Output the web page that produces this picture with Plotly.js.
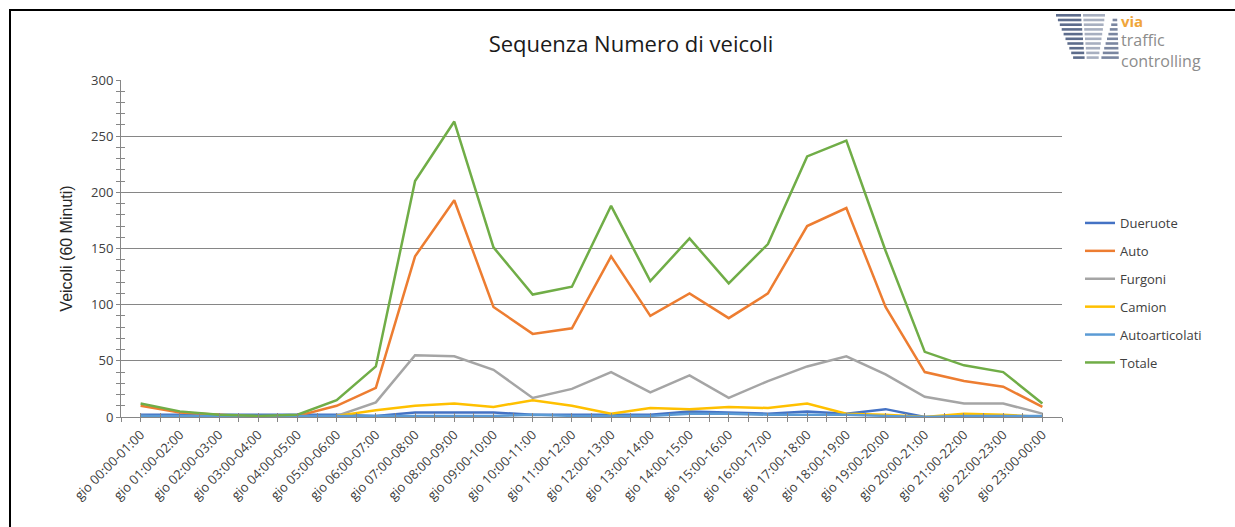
<!DOCTYPE html>
<html>
<head>
<meta charset="utf-8">
<script src="https://cdn.plot.ly/plotly-3.0.1.min.js"></script>
<style>
  html, body { margin: 0; padding: 0; background: #fff; overflow: hidden; }
  #wrap { position: relative; width: 1235px; height: 527px; }
  #chart { width: 1235px; height: 527px; }
  #frame { position: absolute; left: 9px; top: 9px; width: 1300px; height: 600px;
           border: 2px solid #000; pointer-events: none; box-sizing: border-box; }
</style>
</head>
<body>
<div id="wrap"><div id="chart"></div><div id="frame"></div></div>
<script>
const categories = [
  "gio 00:00-01:00","gio 01:00-02:00","gio 02:00-03:00","gio 03:00-04:00",
  "gio 04:00-05:00","gio 05:00-06:00","gio 06:00-07:00","gio 07:00-08:00",
  "gio 08:00-09:00","gio 09:00-10:00","gio 10:00-11:00","gio 11:00-12:00",
  "gio 12:00-13:00","gio 13:00-14:00","gio 14:00-15:00","gio 15:00-16:00",
  "gio 16:00-17:00","gio 17:00-18:00","gio 18:00-19:00","gio 19:00-20:00",
  "gio 20:00-21:00","gio 21:00-22:00","gio 22:00-23:00","gio 23:00-00:00"
];
const dueruote       = [2,2,2,2,2,2,1,4,4,4,2,2,2,2,5,4,3,5,3,7,0,0,0,0];
const auto           = [10,4,2,0,1,10,26,143,193,98,74,79,143,90,110,88,110,170,186,98,40,32,27,9];
const furgoni        = [1,0,0,0,0,1,13,55,54,42,17,25,40,22,37,17,32,45,54,38,18,12,12,3];
const camion         = [0,0,0,0,0,1,6,10,12,9,15,10,3,8,7,9,8,12,3,2,0,3,2,0];
const autoarticolati = [1,1,1,1,1,1,1,1,1,1,2,1,1,1,3,3,2,2,2,1,0,1,1,1];
const totale         = [12,5,2,1,2,15,45,210,263,151,109,116,188,121,159,119,154,232,246,148,58,46,40,12];

const seriesNames  = ["Dueruote","Auto","Furgoni","Camion","Autoarticolati","Totale"];
const seriesValues = [dueruote, auto, furgoni, camion, autoarticolati, totale];
const seriesColors = ["#4472C4","#ED7D31","#A5A5A5","#FFC000","#5B9BD5","#70AD47"];

const idx = categories.map((_, i) => i);

const traces = seriesNames.map((name, k) => ({
  type: "scatter", mode: "lines", name: name,
  x: idx, y: seriesValues[k],
  line: { color: seriesColors[k], width: 2.5 },
  legendgroup: name,
  hoverinfo: "x+y+name"
}));
// invisible helper trace so the overlay axes (crossing ticks) get drawn
traces.push({
  type: "scatter", mode: "lines", x: idx, y: totale, xaxis: "x2", yaxis: "y2",
  line: { width: 0 }, opacity: 0, showlegend: false, hoverinfo: "skip"
});

// plot area geometry (pixels) for logo shapes
const L = 121, R = 173, T = 80, B = 110, W = 1235, H = 527;
const pw = W - L - R, ph = H - T - B;
const px = v => (v - L) / pw;
const py = v => (H - B - v) / ph;

const shapes = [];
for (let r = 0; r < 10; r++) {
  const y0 = 14 + 4.7 * r, y1 = y0 + 2.6;
  shapes.push({ type: "rect", xref: "paper", yref: "paper", line: { width: 0 },
    x0: px(1056 + 1.9 * r), x1: px(1081 + 0.4 * r), y0: py(y1), y1: py(y0), fillcolor: "#5d6c8c" });
  shapes.push({ type: "rect", xref: "paper", yref: "paper", line: { width: 0 },
    x0: px(1083 + 0.4 * r), x1: px(1105 - 0.7 * r), y0: py(y1), y1: py(y0), fillcolor: "#a7afc0" });
  if (r > 0) {
    shapes.push({ type: "rect", xref: "paper", yref: "paper", line: { width: 0 },
      x0: px(1114 - 1.4 * r), x1: px(1117 + 0.2 * r), y0: py(y1), y1: py(y0), fillcolor: "#7a86a0" });
  }
}

const annotations = [
  { xref: "paper", yref: "paper", x: px(1119), y: py(21), xanchor: "left", yanchor: "middle",
    text: "<b>via</b>", showarrow: false, font: { family: "Open Sans", size: 15, color: "#F0A53A" } },
  { xref: "paper", yref: "paper", x: px(1119), y: py(50), xanchor: "left", yanchor: "middle",
    align: "left", text: "traffic<br>controlling", showarrow: false,
    font: { family: "Open Sans", size: 16, color: "#8c8c8c" } }
];

const axisGrey = "#868686";
const layout = {
  width: W, height: H,
  margin: { l: L, r: R, t: T, b: B, pad: 0 },
  paper_bgcolor: "rgba(0,0,0,0)", plot_bgcolor: "#fff",
  showlegend: true,
  font: { family: "Open Sans", color: "#404040" },
  title: { text: "Sequenza Numero di veicoli", xref: "paper", x: px(631), xanchor: "center",
           yref: "container", y: 1 - 44 / H, yanchor: "middle",
           font: { family: "Open Sans", size: 22, color: "#1a1a1a" } },
  xaxis: {
    range: [-0.5, 23.5], tickmode: "array", tickvals: idx, ticktext: categories,
    tickangle: -45, tickfont: { family: "Open Sans", size: 13, color: "#404040" },
    ticks: "outside", ticklen: 4, tickcolor: axisGrey, tickwidth: 1,
    minor: { tick0: 0, dtick: 0.5, ticks: "outside", ticklen: 4, tickcolor: axisGrey, tickwidth: 1 },
    showline: true, linecolor: axisGrey, linewidth: 1, showgrid: false, zeroline: false,
    fixedrange: true
  },
  yaxis: {
    range: [0, 300], dtick: 50, tick0: 0,
    tickfont: { family: "Open Sans", size: 13, color: "#404040" },
    ticks: "outside", ticklen: 4, tickcolor: axisGrey, tickwidth: 1,
    minor: { dtick: 10, ticks: "outside", ticklen: 4, tickcolor: axisGrey, tickwidth: 1 },
    showline: true, linecolor: axisGrey, linewidth: 1,
    showgrid: true, gridcolor: axisGrey, gridwidth: 1, zeroline: false,
    title: { text: "Veicoli (60 Minuti)", standoff: 14,
             font: { family: "Liberation Sans", size: 16, color: "#262626" } },
    fixedrange: true
  },
  xaxis2: {
    overlaying: "x", anchor: "y2", side: "bottom", range: [-0.5, 23.5],
    tick0: 0, dtick: 0.5, ticks: "inside", ticklen: 4, tickcolor: axisGrey, tickwidth: 1,
    showticklabels: false, showgrid: false, showline: false, zeroline: false
  },
  yaxis2: {
    overlaying: "y", anchor: "x2", side: "left", range: [0, 300],
    tick0: 0, dtick: 10, ticks: "inside", ticklen: 4, tickcolor: axisGrey, tickwidth: 1,
    showticklabels: false, showgrid: false, showline: false, zeroline: false
  },
  legend: {
    x: px(1080), xanchor: "left", y: py(208), yanchor: "top",
    font: { family: "Open Sans", size: 13, color: "#404040" },
    bgcolor: "rgba(0,0,0,0)", tracegroupgap: 8, itemwidth: 30
  },
  shapes: shapes,
  annotations: annotations
};

Plotly.newPlot("chart", traces, layout, { displayModeBar: false, staticPlot: true });
</script>
</body>
</html>
